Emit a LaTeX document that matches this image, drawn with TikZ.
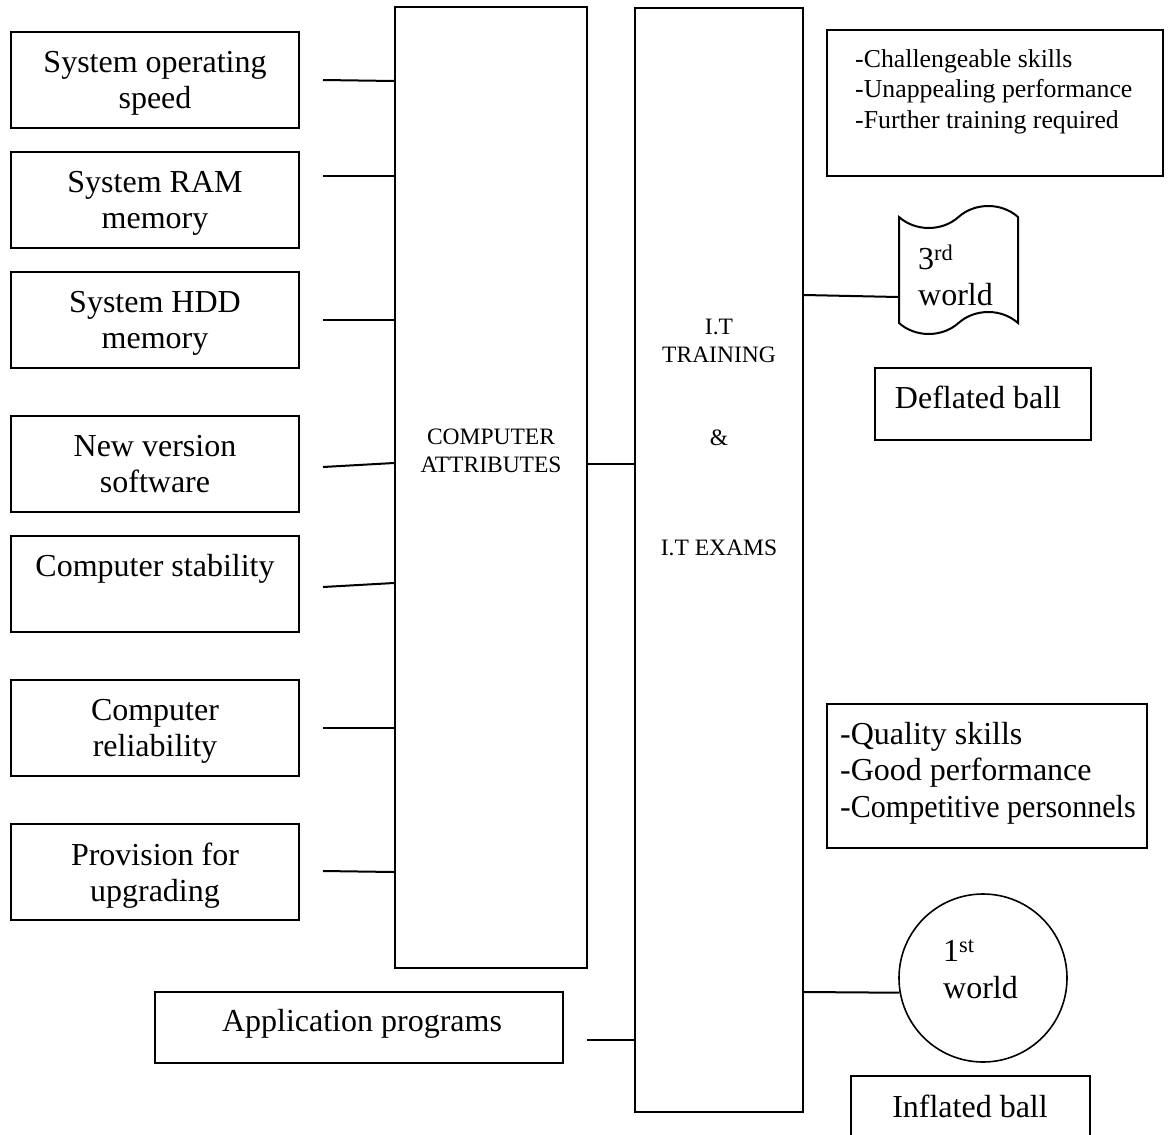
\documentclass[tikz,border=0pt]{standalone}
\usepackage{fontspec}
\setmainfont{Liberation Serif}
\usetikzlibrary{shapes.symbols}
\begin{document}
\begin{tikzpicture}[x=1pt,y=-1pt,
  big/.style={font=\fontsize{32}{36.5}\selectfont},
  small/.style={font=\fontsize{23.5}{27.5}\selectfont},
  mid/.style={font=\fontsize{25.8}{30.5}\selectfont},
  box/.style={draw,line width=2pt,rectangle,inner sep=0pt,align=center},
  lbox/.style={box,minimum width=288pt,minimum height=96pt},
  ltxt/.style={label={[txt,big,yshift=-3.5pt]center:{#1}}},
  ltxt0/.style={label={[txt,big]center:{#1}}},
  conn/.style={line width=2pt},
  txt/.style={inner sep=0pt,align=center}
]
\useasboundingbox (0,0) rectangle (1168,1135);
\fill[white] (0,0) rectangle (1168,1135);

% left boxes
\node[lbox,ltxt={System operating\\speed}] (b1) at (155,80) {};
\node[lbox,ltxt={System RAM\\memory}] (b2) at (155,200) {};
\node[lbox,ltxt={System HDD\\memory}] (b3) at (155,320) {};
\node[lbox,ltxt0={New version\\software}] (b4) at (155,464) {};
\node[lbox,ltxt0={Computer stability\\\mbox{}}] (b5) at (155,584) {};
\node[lbox,ltxt={Computer\\reliability}] (b6) at (155,728) {};
\node[lbox,ltxt={Provision for\\upgrading}] (b7) at (155,872) {};

% central columns
\node[box,minimum width=192pt,minimum height=961pt] (ca) at (491,487.5) {};
\node[txt,small] (catxt) at (491,451) {COMPUTER\\ATTRIBUTES};
\node[box,minimum width=168pt,minimum height=1104pt] (it) at (719,560) {};
\node[txt,small] (ittxt1) at (719,341) {I.T\\TRAINING};
\node[txt,small] (ittxt2) at (719,438) {\&};
\node[txt,small] (ittxt3) at (719,548) {I.T EXAMS};

% application programs
\node[box,minimum width=408pt,minimum height=71pt] (app) at (359,1027.5) {};
\node[txt,big] (apptxt) at (362,1024) {Application programs};

% right side
\node[box,minimum width=336pt,minimum height=146pt] (neg) at (995,103) {};
\node[txt,mid,align=left,anchor=west] (negtxt) at (855,91.5)
  {-Challengeable skills\\-Unappealing performance\\-Further training required};

\node[draw,line width=2pt,tape,tape bend height=22pt,minimum width=119pt,
  minimum height=128pt,inner sep=0pt] (scroll) at (958.5,270) {};
\node[txt,big,align=left,anchor=west] (scrolltxt) at (918,275.5)
  {3\textsuperscript{rd}\\world};

\node[box,minimum width=216pt,minimum height=72pt] (defl) at (983,403.5) {};
\node[txt,big] (defltxt) at (978,397) {Deflated ball};

\node[box,minimum width=320pt,minimum height=144pt] (pos) at (987,776) {};
\node[txt,big,align=left,anchor=west] (postxt) at (840,773)
  {-Quality skills\\-Good performance\\-\scalebox{0.94}[1]{Competitive personnels}};

\node[draw,line width=1.6pt,circle,minimum size=168pt,inner sep=0pt] (c) at (983,978) {};
\node[txt,big,align=left,anchor=west] (ctxt) at (943,969.5)
  {1\textsuperscript{st}\\world};

\node[box,minimum width=239pt,minimum height=74pt] (infl) at (970.5,1113) {};
\node[txt,big] (infltxt) at (970,1106) {Inflated ball};

% connectors from left boxes
\coordinate (s1) at (323,80);
\coordinate (s2) at (323,176);
\coordinate (s3) at (323,320);
\coordinate (s4) at (323,467);
\coordinate (s5) at (323,587);
\coordinate (s6) at (323,728);
\coordinate (s7) at (323,871);
\draw[conn] (s1) -- (ca.west |- 0,81);
\draw[conn] (s2) -- (ca.west |- 0,176);
\draw[conn] (s3) -- (ca.west |- 0,320);
\draw[conn] (s4) -- (ca.west |- 0,463);
\draw[conn] (s5) -- (ca.west |- 0,583);
\draw[conn] (s6) -- (ca.west |- 0,728);
\draw[conn] (s7) -- (ca.west |- 0,872);

\draw[conn] (ca.east |- 0,464) -- (it.west |- 0,464);
\coordinate (sa) at (587,1040);
\draw[conn] (sa) -- (it.west |- 0,1040);

\draw[conn] (it.east |- 0,295) -- (scroll.west |- 0,297);
\draw[conn] (it.east |- 0,992) -- (c.190);
\end{tikzpicture}
\end{document}
